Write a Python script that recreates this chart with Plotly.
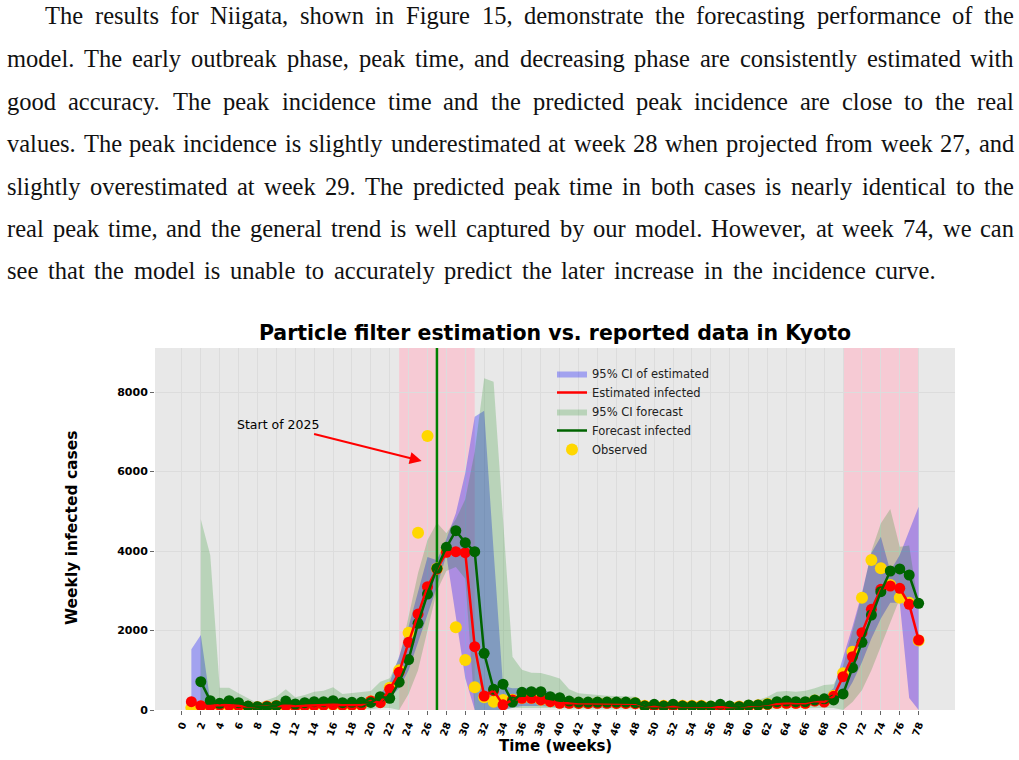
import plotly.graph_objects as go

# ---------------- data ----------------
weeks_est = list(range(1, 79))
weeks_fc = list(range(2, 79))

estimated = [210,109,100,126,117,109,92,75,92,109,
             109,100,109,117,126,134,126,126,126,226,
             185,520,948,1702,2415,3103,3547,3967,3983,3958,
             1593,352,486,130,252,293,293,252,210,168,
             168,165,165,168,168,165,165,160,100,100,
             100,100,100,100,100,84,67,67,84,100,
             117,142,168,168,168,168,226,200,345,838,
             1342,1946,2532,3036,3120,3061,2659,1761]

observed = [60,80,150,110,100,100,80,70,90,100,
            100,100,110,120,130,130,120,120,130,220,
            200,560,1000,1946,4461,6894,3560,3990,2080,1258,
            570,319,210,252,260,300,300,260,220,180,
            180,175,175,180,180,175,175,170,110,110,
            110,110,110,110,110,90,80,80,90,110,
            120,150,175,175,175,175,240,220,360,923,
            1467,2826,3774,3564,3145,2826,2700,1750]

forecast = [713,235,168,235,184,100,84,84,109,226,
            151,184,210,210,235,184,193,193,190,335,
            293,700,1270,2180,2918,3564,4092,4512,4210,3983,
            1426,520,650,200,444,461,461,335,310,226,
            200,200,200,200,200,200,184,100,142,100,
            142,100,100,100,100,142,100,84,126,126,
            151,210,226,210,210,252,280,252,403,1065,
            1702,2390,2977,3497,3548,3397,2684]

est_ci_upper = [1526,1890,220,210,220,200,170,150,170,190,
                210,190,200,215,225,235,225,225,235,320,
                400,700,1350,2100,3000,3850,3770,4300,4950,5960,
                7380,7530,4000,600,550,560,560,520,450,350,
                280,260,260,260,260,260,260,250,180,180,
                180,180,180,180,170,150,140,140,150,190,
                210,230,260,260,260,260,320,350,550,1300,
                2100,2950,3950,4360,3500,3900,4500,5116]
est_ci_lower = [0,0,30,50,50,40,30,20,30,40,
                40,40,40,50,60,60,60,60,60,100,
                100,300,550,1000,1700,2400,3100,3900,2350,800,
                0,0,0,0,60,100,100,100,80,60,
                60,60,60,60,60,60,60,60,30,30,
                30,30,30,30,30,20,10,10,20,30,
                50,60,80,80,80,80,120,120,200,300,
                700,1200,1800,2300,2700,2700,300,0]

fc_ci_upper = [4800,3900,562,562,420,293,168,252,335,520,
               318,377,461,486,570,402,436,453,478,713,
               797,1300,2350,3450,4280,4710,4450,4800,5300,6500,
               8350,8260,4800,1340,1010,940,930,870,790,520,
               420,394,377,360,352,352,335,180,170,170,
               170,170,170,170,170,170,170,170,200,250,
               335,461,478,461,486,545,629,646,1100,2000,
               2900,4000,4700,5060,4110,4140,2700]
fc_ci_lower = [0,0,20,30,20,10,10,10,10,20,
               20,20,20,20,20,20,20,20,20,50,
               50,0,400,1000,2000,3000,3500,3600,3300,0,
               0,0,0,50,60,60,60,50,50,40,
               40,40,40,40,40,40,40,30,30,30,
               30,30,30,30,30,30,30,30,30,30,
               40,40,40,40,40,50,50,50,0,200,
               500,1000,1600,2200,2800,2800,2600]

highlight_spans = [(23, 31), (70, 78)]
start_2025_week = 27
x_ticks = list(range(0, 79, 2))
y_ticks = [0, 2000, 4000, 6000, 8000]

paragraph = [
    "The results for Niigata, shown in Figure 15, demonstrate the forecasting performance of the",
    "model. The early outbreak phase, peak time, and decreasing phase are consistently estimated with",
    "good accuracy. The peak incidence time and the predicted peak incidence are close to the real",
    "values. The peak incidence is slightly underestimated at week 28 when projected from week 27, and",
    "slightly overestimated at week 29. The predicted peak time in both cases is nearly identical to the",
    "real peak time, and the general trend is well captured by our model. However, at week 74, we can",
    "see that the model is unable to accurately predict the later increase in the incidence curve.",
]

# ---------------- figure ----------------
W, H = 1019, 760
HV = 753.0  # effective vertical scale of the rendered page
Y_MAX = 9108
X_RANGE = [-2.85, 81.85]


def py(v):
    return 1 - v / HV


fig = go.Figure()

fig.add_trace(go.Scatter(
    x=weeks_est + weeks_est[::-1], y=est_ci_upper + est_ci_lower[::-1],
    fill="toself", fillcolor="rgba(0,0,255,0.3)", line=dict(width=0),
    mode="lines", name="95% CI of estimated", legendrank=1, hoverinfo="skip"))
fig.add_trace(go.Scatter(
    x=weeks_fc + weeks_fc[::-1], y=fc_ci_upper + fc_ci_lower[::-1],
    fill="toself", fillcolor="rgba(0,128,0,0.2)", line=dict(width=0),
    mode="lines", name="95% CI forecast", legendrank=3, hoverinfo="skip"))
fig.add_trace(go.Scatter(
    x=[start_2025_week, start_2025_week], y=[0, Y_MAX], mode="lines",
    line=dict(color="green", width=2.5), showlegend=False, hoverinfo="skip"))
fig.add_trace(go.Scatter(
    x=weeks_est, y=observed, mode="markers", name="Observed",
    marker=dict(color="gold", size=12), legendrank=5))
fig.add_trace(go.Scatter(
    x=weeks_est, y=estimated, mode="markers", showlegend=False,
    marker=dict(color="red", size=11)))
fig.add_trace(go.Scatter(
    x=weeks_fc, y=forecast, mode="markers", showlegend=False,
    marker=dict(color="darkgreen", size=11)))
fig.add_trace(go.Scatter(
    x=weeks_est, y=estimated, mode="lines", name="Estimated infected",
    line=dict(color="red", width=2.5), legendrank=2))
fig.add_trace(go.Scatter(
    x=weeks_fc, y=forecast, mode="lines", name="Forecast infected",
    line=dict(color="darkgreen", width=2.5), legendrank=4))

shapes = []
for a, b in highlight_spans:
    shapes.append(dict(type="rect", xref="x", yref="y domain", x0=a, x1=b,
                       y0=0, y1=1, fillcolor="rgb(246,202,212)",
                       line=dict(width=0), layer="below"))

annotations = []
annotations.append(dict(
    x=25.38, y=6265, xref="x", yref="y", ax=10.2, ay=7171, axref="x", ayref="y",
    text="Start of 2025", showarrow=True, arrowhead=2, arrowsize=1.2,
    arrowwidth=2, arrowcolor="red", standoff=0,
    font=dict(family="DejaVu Sans", size=12.5, color="black")))
annotations.append(dict(
    x=555 / W, y=py(746), xref="paper", yref="paper", showarrow=False,
    text="Time (weeks)", xanchor="center", yanchor="middle",
    font=dict(family="DejaVu Sans", size=15, color="black", weight="bold")))
annotations.append(dict(
    x=72 / W, y=py(528), xref="paper", yref="paper", showarrow=False,
    text="Weekly infected cases", textangle=-90, xanchor="center", yanchor="middle",
    font=dict(family="DejaVu Sans", size=15.5, color="black", weight="bold")))

# paragraph (justified word by word)
TIMES = {' ': 250, ',': 250, '.': 250, ':': 278, ';': 278, '(': 333, ')': 333, '-': 333,
         'A': 722, 'B': 667, 'C': 667, 'D': 722, 'E': 611, 'F': 556, 'G': 722, 'H': 722,
         'I': 333, 'J': 389, 'K': 722, 'L': 611, 'M': 889, 'N': 722, 'O': 722, 'P': 556,
         'Q': 722, 'R': 667, 'S': 556, 'T': 611, 'U': 722, 'V': 722, 'W': 944, 'X': 722,
         'Y': 722, 'Z': 611, 'a': 444, 'b': 500, 'c': 444, 'd': 500, 'e': 444, 'f': 333,
         'g': 500, 'h': 500, 'i': 278, 'j': 278, 'k': 500, 'l': 278, 'm': 778, 'n': 500,
         'o': 500, 'p': 500, 'q': 500, 'r': 333, 's': 389, 't': 278, 'u': 500, 'v': 500,
         'w': 722, 'x': 500, 'y': 500, 'z': 444}
FS = 24.5
line_y = [16, 58.5, 101, 143.5, 186, 228.5, 270.5]
bounds = [(44, 1013)] + [(6, 1013)] * 5 + [(6, 935)]
for line, ly, (L, R) in zip(paragraph, line_y, bounds):
    words = line.split()
    widths = [sum(TIMES.get(c, 500) for c in w) / 1000 * FS for w in words]
    gap = (R - L - sum(widths)) / (len(words) - 1)
    x = L
    for w, wd in zip(words, widths):
        annotations.append(dict(
            x=x / W, y=py(ly), xref="paper", yref="paper", showarrow=False,
            text=w, xanchor="left", yanchor="middle", borderpad=0,
            font=dict(family="Liberation Serif", size=FS, color="#111111")))
        x += wd + gap

fig.update_layout(
    width=W, height=H, margin=dict(l=0, r=0, t=0, b=0),
    paper_bgcolor="white", plot_bgcolor="#E8E8E8",
    title=dict(text="Particle filter estimation vs. reported data in Kyoto",
               x=555 / W, xanchor="center", y=py(330), yanchor="middle",
               font=dict(family="DejaVu Sans", size=20.5, color="black", weight="bold")),
    xaxis=dict(domain=[155 / W, 955 / W], range=X_RANGE, tickvals=x_ticks,
               ticktext=[str(v) for v in x_ticks], tickangle=-70,
               tickfont=dict(family="DejaVu Sans", size=10, color="black", weight="bold"),
               showgrid=True, gridcolor="#DCDCDC", gridwidth=1, zeroline=False,
               ticks="outside", ticklen=4, tickcolor="#666666", showline=False),
    yaxis=dict(domain=[py(710), py(348)], range=[0, Y_MAX], tickvals=y_ticks,
               tickfont=dict(family="DejaVu Sans", size=11, color="black", weight="bold"),
               showgrid=True, gridcolor="#DCDCDC", gridwidth=1, zeroline=False,
               ticks="outside", ticklen=4, tickcolor="#666666", showline=False),
    legend=dict(x=552 / W, y=py(359), xanchor="left", yanchor="top",
                bgcolor="rgba(0,0,0,0)",
                font=dict(family="DejaVu Sans", size=11.5, color="#222222"),
                traceorder="normal"),
    shapes=shapes, annotations=annotations, showlegend=True,
)

fig.write_html("out.html")
